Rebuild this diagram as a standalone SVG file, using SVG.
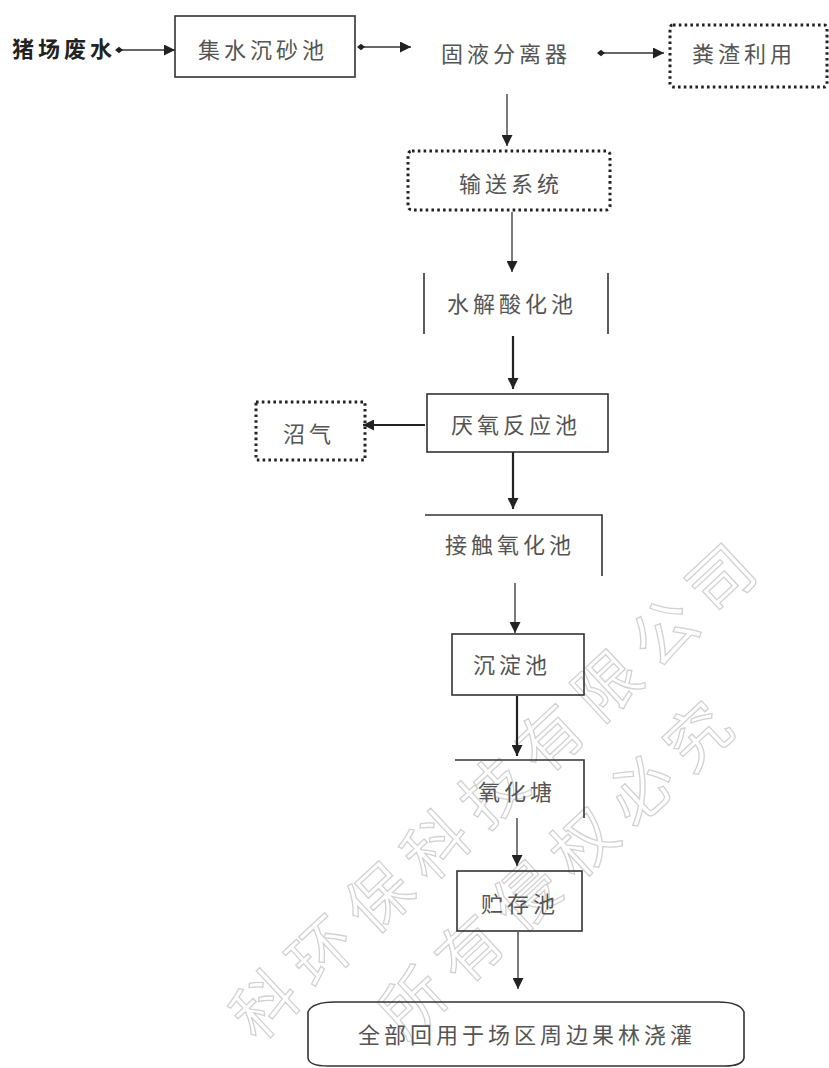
<svg xmlns="http://www.w3.org/2000/svg" width="829" height="1068" viewBox="0 0 829 1068">
<defs>
<style>
.lbl{font-family:"Noto Sans CJK SC","Noto Sans",sans-serif;font-size:22px;fill:#555;letter-spacing:4px;text-anchor:middle;dominant-baseline:central}
.src{font-family:"Noto Sans CJK SC","Noto Sans",sans-serif;font-size:22px;font-weight:bold;fill:#222;letter-spacing:4px;dominant-baseline:central}
.box{fill:none;stroke:#333;stroke-width:1.6}
.dot{fill:none;stroke:#222;stroke-width:3;stroke-dasharray:2.6 3.2}
.ln{fill:none;stroke:#333;stroke-width:1.6}
.c{fill:none;stroke:#333;stroke-width:1.3}
.ct{fill:none;stroke:#222;stroke-width:2.2}
.wm{font-family:"Noto Sans CJK SC",sans-serif;font-size:64px;fill:none;stroke:#d2d2d2;stroke-width:1.3;letter-spacing:14px}
</style>
<marker id="ah" markerUnits="userSpaceOnUse" markerWidth="12" markerHeight="11" refX="11" refY="5.5" orient="auto">
<path d="M0,0 L11,5.5 L0,11 z" fill="#222"/>
</marker>
<marker id="sd" markerUnits="userSpaceOnUse" markerWidth="8" markerHeight="8" refX="4" refY="4" orient="auto">
<path d="M0,4 L4,0.8 L8,4 L4,7.2 z" fill="#222"/>
</marker>
</defs>
<rect width="829" height="1068" fill="#fff"/>

<g id="watermark">
<text class="wm" transform="translate(722,580) rotate(-43)" x="46" y="22" text-anchor="end">科环保科技有限公司</text>
<text class="wm" transform="translate(640,792) rotate(-43)" x="126" y="22" text-anchor="end">所有侵权必究</text>
</g>

<g id="connectors">
<line class="c" x1="119" y1="50" x2="175" y2="50" marker-start="url(#sd)" marker-end="url(#ah)"/>
<line class="c" x1="361" y1="47" x2="411" y2="47" marker-start="url(#sd)" marker-end="url(#ah)"/>
<line class="c" x1="601" y1="53" x2="664" y2="53" marker-start="url(#sd)" marker-end="url(#ah)"/>
<line class="c" x1="507" y1="94" x2="507" y2="146" marker-end="url(#ah)"/>
<line class="c" x1="512" y1="212" x2="512" y2="272" marker-end="url(#ah)"/>
<line class="ct" x1="513" y1="336" x2="513" y2="389" marker-end="url(#ah)"/>
<line class="ct" x1="425" y1="425" x2="363" y2="425" marker-end="url(#ah)"/>
<line class="ct" x1="513" y1="452" x2="513" y2="509" marker-end="url(#ah)"/>
<line class="c" x1="515" y1="583" x2="515" y2="633" marker-end="url(#ah)"/>
<line class="ct" x1="517" y1="696" x2="517" y2="756" marker-end="url(#ah)"/>
<line class="c" x1="517" y1="818" x2="517" y2="866" marker-end="url(#ah)"/>
<line class="c" x1="518" y1="932" x2="518" y2="989" marker-end="url(#ah)"/>
</g>

<g id="n-source">
<text class="src" x="12" y="47">猪场废水</text>
</g>
<g id="n-jishui">
<rect class="box" x="175" y="16" width="180" height="61"/>
<text class="lbl" x="263" y="48">集水沉砂池</text>
</g>
<g id="n-guye">
<text class="lbl" x="506" y="52">固液分离器</text>
</g>
<g id="n-fenzha">
<rect class="dot" x="670" y="25" width="157" height="62" rx="3"/>
<text class="lbl" x="744" y="52">粪渣利用</text>
</g>
<g id="n-shusong">
<rect class="dot" x="408" y="151" width="202" height="59" rx="4"/>
<text class="lbl" x="511" y="182">输送系统</text>
</g>
<g id="n-shuijie">
<line class="ln" x1="424" y1="273" x2="424" y2="334"/>
<line class="ln" x1="608" y1="273" x2="608" y2="334"/>
<text class="lbl" x="512" y="302">水解酸化池</text>
</g>
<g id="n-yanyang">
<rect class="box" x="427" y="394" width="181" height="58"/>
<text class="lbl" x="516" y="423">厌氧反应池</text>
</g>
<g id="n-zhaoqi">
<rect class="dot" x="256" y="402" width="109" height="58"/>
<text class="lbl" x="309" y="432">沼气</text>
</g>
<g id="n-jiechu">
<path class="ln" d="M425,515 H602 V576"/>
<text class="lbl" x="510" y="543">接触氧化池</text>
</g>
<g id="n-chendian">
<rect class="box" x="452" y="634" width="132" height="61"/>
<text class="lbl" x="512" y="663">沉淀池</text>
</g>
<g id="n-yanghua">
<path class="ln" d="M455,760 H584 V818"/>
<text class="lbl" x="517" y="790">氧化塘</text>
</g>
<g id="n-zhucun">
<rect class="box" x="457" y="871" width="125" height="60"/>
<text class="lbl" x="520" y="902">贮存池</text>
</g>
<g id="n-final">
<path class="box" d="M335,1002 H718 Q740,1002 744,1012 V1058 Q742,1066 725,1066 H328 Q309,1066 308,1058 V1012 Q312,1002 335,1002 z"/>
<text class="lbl" x="527" y="1033">全部回用于场区周边果林浇灌</text>
</g>
</svg>
